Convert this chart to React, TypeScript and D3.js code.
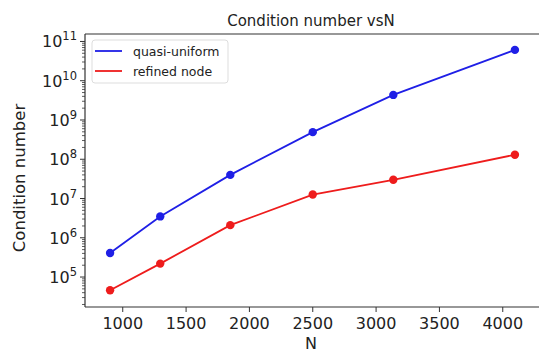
import * as d3 from "d3";

const nodes = [900, 1296, 1849, 2500, 3136, 4096];
const quasiUniform = [4.1e5, 3.5e6, 4.0e7, 4.9e8, 4.35e9, 6.1e10];
const refinedNode = [4.6e4, 2.2e5, 2.1e6, 1.26e7, 3.0e7, 1.3e8];
const xTicks = [1000, 1500, 2000, 2500, 3000, 3500, 4000];
const yExponents = [5, 6, 7, 8, 9, 10, 11];

const W = 539;
const H = 354;
const left = 85;
const right = 540;
const top = 34;
const bottom = 307;

export default function App() {
  const x = d3.scaleLinear().domain([702, 4294]).range([left, right]);
  const y = d3.scaleLog().domain([10 ** 4.237, 10 ** 11.19]).range([bottom, top]);

  const line = d3
    .line<[number, number]>()
    .x((d) => x(d[0]))
    .y((d) => y(d[1]));

  const series = [
    { name: "quasi-uniform", values: quasiUniform, color: "#1f1fe6" },
    { name: "refined node", values: refinedNode, color: "#ee1c1c" },
  ];

  // minor ticks for the log axis
  const minor: number[] = [];
  for (let e = 4; e <= 11; e++) {
    for (let m = 2; m <= 9; m++) {
      const v = m * 10 ** e;
      if (v > y.domain()[0] && v < y.domain()[1]) minor.push(v);
    }
  }

  const font = "DejaVu Sans, sans-serif";
  const axisColor = "#333";

  return (
    <svg
      width={W}
      height={H}
      style={{ position: "absolute", left: 0, top: 0, background: "#fff" }}
      fontFamily={font}
    >
      <text x={311} y={25.5} textAnchor="middle" fontSize={15} fill="#222">
        Condition number vsN
      </text>

      {/* lines and markers */}
      {series.map((s) => {
        const pts = nodes.map((n, i) => [n, s.values[i]] as [number, number]);
        return (
          <g key={s.name}>
            <path d={line(pts) ?? ""} fill="none" stroke={s.color} strokeWidth={1.8} />
            {pts.map((p, i) => (
              <circle key={i} cx={x(p[0])} cy={y(p[1])} r={4.2} fill={s.color} />
            ))}
          </g>
        );
      })}

      {/* spines */}
      <line x1={left} x2={left} y1={top} y2={bottom} stroke={axisColor} strokeWidth={1.2} />
      <line x1={left} x2={W} y1={bottom} y2={bottom} stroke={axisColor} strokeWidth={1.2} />
      <line x1={left} x2={W} y1={top} y2={top} stroke={axisColor} strokeWidth={1.2} />

      {/* x ticks */}
      {xTicks.map((t) => (
        <g key={t} transform={`translate(${x(t)},${bottom})`}>
          <line y2={5} stroke={axisColor} />
          <text y={22} textAnchor="middle" fontSize={16} fill="#222">
            {t}
          </text>
        </g>
      ))}
      <text x={311} y={349} textAnchor="middle" fontSize={16} fill="#222">
        N
      </text>

      {/* y ticks */}
      {minor.map((v) => (
        <line key={v} x1={left - 3} x2={left} y1={y(v)} y2={y(v)} stroke={axisColor} strokeWidth={0.8} />
      ))}
      {yExponents.map((e) => (
        <g key={e} transform={`translate(${left},${y(10 ** e)})`}>
          <line x1={-5} stroke={axisColor} />
          <text x={-8} y={6} textAnchor="end" fontSize={16} fill="#222">
            10
            <tspan dy={-7} fontSize={11.5}>
              {e}
            </tspan>
          </text>
        </g>
      ))}
      <text
        transform={`translate(25,178) rotate(-90)`}
        textAnchor="middle"
        fontSize={16.5}
        fill="#222"
      >
        Condition number
      </text>

      {/* legend */}
      <g transform="translate(92,40)">
        <rect width={136} height={43} rx={3} fill="#fff" stroke="#ddd" />
        {series.map((s, i) => (
          <g key={s.name} transform={`translate(0,${11 + i * 20})`}>
            <line x1={3} x2={30} stroke={s.color} strokeWidth={1.8} />
            <text x={41} y={4.5} fontSize={12.5} fill="#222">
              {s.name}
            </text>
          </g>
        ))}
      </g>
    </svg>
  );
}
